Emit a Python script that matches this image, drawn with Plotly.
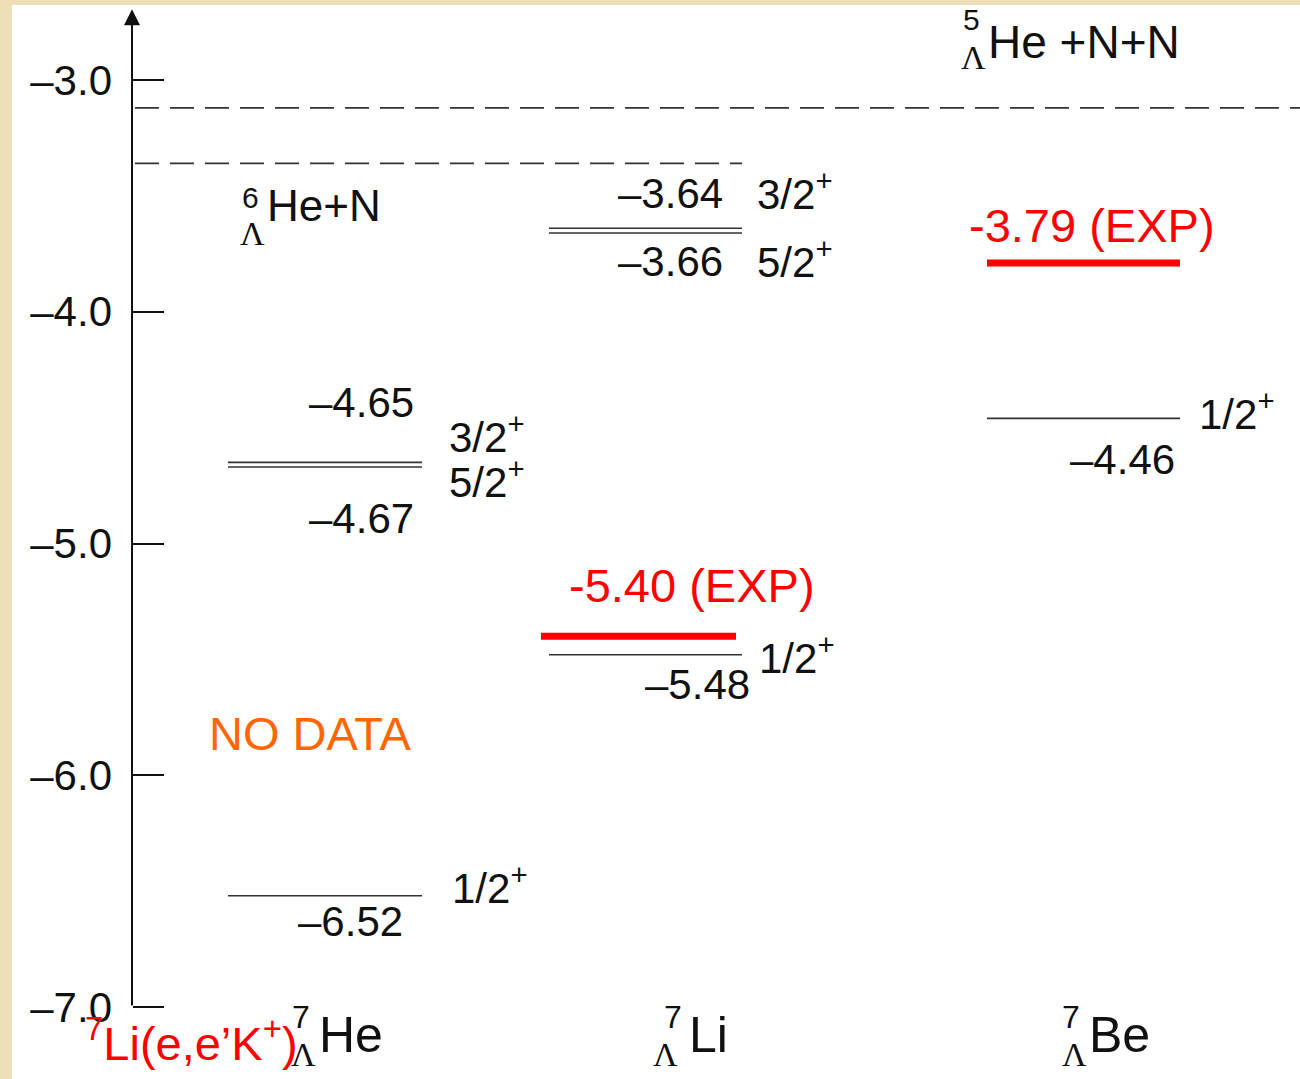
import plotly.graph_objects as go

# Energy axis ticks (MeV)
tick_vals = [-3.0, -4.0, -5.0, -6.0, -7.0]

# Breakup thresholds: 5ΛHe+N+N and 6ΛHe+N
threshold_energies = [-3.12, -3.36]

# Calculated levels of the A=7 hypernuclei
he_energies = [-4.65, -4.67, -6.52]
he_spins = ["3/2", "5/2", "1/2"]
li_energies = [-3.64, -3.66, -5.48]
li_spins = ["3/2", "5/2", "1/2"]
be_energies = [-4.46]
be_spins = ["1/2"]

# Measured binding energies
exp_li = -5.40
exp_be = -3.79

# ---- layout constants (pixel-based x scale, 0..1300) ----
W, H = 1300, 1079
AXIS_X = 132
HE_X = (228, 422)
LI_X = (549, 742)
BE_X = (987, 1180)
LI_EXP_X = (541, 736)
BE_EXP_X = (987, 1180)
THR_X = [(135, 1300), (135, 742)]
Y_RANGE = [-7.3107, -2.6548]

SANS = "Liberation Sans, Arial, sans-serif"
SERIF = "Liberation Serif, Times New Roman, serif"
BLACK = "#111111"
LINE = "#333333"
RED = "#ff0000"
ORANGE = "#ff6600"

fig = go.Figure()


def level_line(x_ext, e, color=LINE, width=1.6):
    fig.add_trace(go.Scatter(
        x=list(x_ext), y=[e, e], mode="lines",
        line=dict(color=color, width=width),
        hoverinfo="skip", showlegend=False))


def fmt_e(e):
    return f"{e:.2f}".replace("-", "\u2013")


def text(x, y, s, size, xanchor="left", color=BLACK, yshift=0, family=SANS):
    fig.add_annotation(
        x=x, y=y, xref="x", yref="y", text=s, showarrow=False,
        xanchor=xanchor, yanchor="middle", yshift=yshift,
        font=dict(family=family, size=size, color=color))


# Threshold dashed lines
for (x0, x1), e in zip(THR_X, threshold_energies):
    fig.add_trace(go.Scatter(
        x=[x0, x1], y=[e, e], mode="lines",
        line=dict(color=LINE, width=1.8, dash="24px,11px"),
        hoverinfo="skip", showlegend=False))

# Level lines
for e in he_energies:
    level_line(HE_X, e)
for e in li_energies:
    level_line(LI_X, e)
for e in be_energies:
    level_line(BE_X, e)

# Experimental levels
level_line(LI_EXP_X, exp_li, color=RED, width=7)
level_line(BE_EXP_X, exp_be, color=RED, width=7)

# Level labels: (energy x right edge, energy yshift, spin x left, spin yshift)
he_lab = [(416, 60, 447, 28), (416, -51, 447, -12), (405, -26, 450, 11)]
li_lab = [(725, 35, 755, 37), (725, -29, 755, -26), (752, -30, 757, 0)]
be_lab = [(1177, -41, 1197, 7)]

LBL = 42
for energies, spins, labs in [(he_energies, he_spins, he_lab),
                              (li_energies, li_spins, li_lab),
                              (be_energies, be_spins, be_lab)]:
    for e, s, (ex, ey, sx, sy) in zip(energies, spins, labs):
        text(ex, e, fmt_e(e), LBL, xanchor="right", yshift=ey)
        text(sx, e, f"{s}<sup>+</sup>", LBL, xanchor="left", yshift=sy)

# Experimental value labels
text(692, exp_li, f"{exp_li:.2f} (EXP)", 47, xanchor="center", color=RED, yshift=51)
text(1092, exp_be, f"{exp_be:.2f} (EXP)", 47, xanchor="center", color=RED, yshift=38)

# No data marker for 7ΛHe excited region
text(310, -5.82, "NO DATA", 47, xanchor="center", color=ORANGE)

# Threshold labels
t5, t6 = threshold_energies
text(971, t5, "5", 30, xanchor="center", yshift=88)
text(973, t5, "\u039b", 34, xanchor="center", yshift=50, family=SERIF)
text(986, t5, "He +N+N", 46, yshift=66)
text(250, t6, "6", 30, xanchor="center", yshift=-34)
text(252, t6, "\u039b", 34, xanchor="center", yshift=-70, family=SERIF)
text(265, t6, "He+N", 44, yshift=-42)

# Hypernucleus names below the axis
base = tick_vals[-1]
for x7, xl, xt, name in [(301, 303, 317, "He"), (673, 665, 687, "Li"), (1071, 1074, 1087, "Be")]:
    text(x7, base, "7", 32, xanchor="center", yshift=-10)
    text(xl, base, "\u039b", 34, xanchor="center", yshift=-47, family=SERIF)
    text(xt, base, name, 50, yshift=-28)

# Reaction used for the 7ΛHe measurement
text(83, base, "<sup>7</sup>Li(e,e\u2019K<sup>+</sup>)", 47, color=RED, yshift=-33)

# Energy axis with arrow
fig.add_annotation(
    x=AXIS_X, y=Y_RANGE[1] - 0.04, ax=AXIS_X, ay=tick_vals[-1],
    xref="x", yref="y", axref="x", ayref="y", text="",
    showarrow=True, arrowhead=2, arrowsize=1.6, arrowwidth=2, arrowcolor=BLACK)

# White drawing sheet over the parchment background
fig.add_shape(type="rect", xref="paper", yref="paper",
              x0=12 / W, x1=1, y0=0, y1=1 - 5 / H,
              fillcolor="white", line_width=0, layer="below")

fig.update_layout(
    width=W, height=H,
    margin=dict(l=0, r=0, t=0, b=0),
    paper_bgcolor="#eedfb6", plot_bgcolor="rgba(0,0,0,0)",
    xaxis=dict(range=[0, W], visible=False, fixedrange=True),
    yaxis=dict(
        range=Y_RANGE, anchor="free", position=AXIS_X / W,
        tickvals=tick_vals, ticktext=[f"{v:.1f}".replace("-", "\u2013") for v in tick_vals],
        ticks="inside", ticklen=31, tickwidth=1.5, tickcolor=BLACK,
        ticklabelstandoff=20,
        tickfont=dict(family=SANS, size=42, color=BLACK),
        showgrid=False, zeroline=False, showline=False, fixedrange=True),
    showlegend=False,
)

fig.write_html("out.html")
